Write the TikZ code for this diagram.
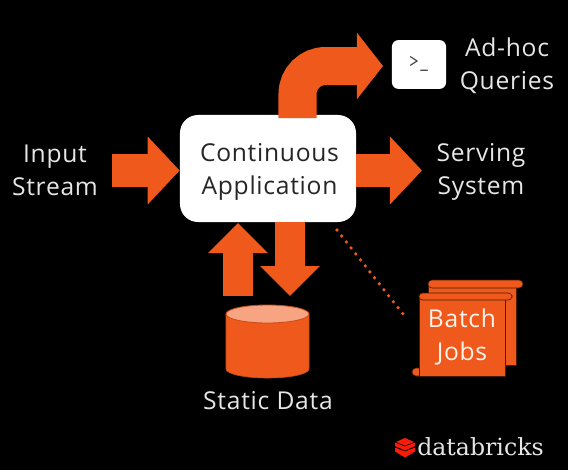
\documentclass[tikz,border=0pt]{standalone}
\usepackage{fontspec}
\setmainfont{Open Sans}[LetterSpace=3]
\newfontfamily\logofont{DejaVu Serif}
\usepackage{xcolor}
\usetikzlibrary{arrows.meta, positioning}
\definecolor{flamecol}{HTML}{EF5A1C}
\definecolor{paper}{HTML}{E6E6E6}

\begin{document}
\begin{tikzpicture}[
  x=0.025cm, y=-0.025cm,
  lbl/.style={align=center, text=paper, inner sep=0pt,
              font=\fontsize{17.5}{23.4}\selectfont},
  whitebox/.style={fill=white, rounded corners=0.45cm, minimum width=4.4cm, minimum height=2.675cm},
  termbox/.style={fill=white, rounded corners=0.16cm, minimum width=1.35cm, minimum height=1.22cm,
                  inner sep=0pt, text=black!75, font=\ttfamily\fontsize{14}{14}\selectfont},
  flow/.style={line width=0.825cm, flamecol, -{Triangle[length=0.8cm,width=1.65cm]}},
  flowthin/.style={line width=0.75cm, flamecol, -{Triangle[length=0.75cm,width=1.45cm]}},
  flowbent/.style={line width=0.95cm, flamecol, rounded corners=0.7cm,
                   -{Triangle[length=0.65cm,width=1.625cm]}},
  dbbody/.style={fill=flamecol, draw=flamecol!85!black, line width=0.4pt},
  dbtop/.style={fill=flamecol!55!white, draw=flamecol!85!black, line width=0.6pt},
  scroll/.style={fill=flamecol, draw=black!70!flamecol, line width=0.4pt},
  dotlink/.style={dash pattern=on 0pt off 0.19cm, line cap=round, line width=0.09cm, flamecol},
]
\fill[black] (0,0) rectangle (568,470);
\useasboundingbox (0,0) rectangle (568,470);
% main box and the outputs
\node[whitebox] (app) at (268,168.5) {};
\node[lbl, text=black!85] (applbl) at (269.5,172) {Continuous\\Application};
\node[termbox] (term) at (419,64.5) {>\_};
\node[lbl] (adhoc) at (507,66) {Ad-hoc\\Queries};
\node[lbl] (input) at (55,170) {Input\\Stream};
\node[lbl] (serving) at (481,172) {Serving\\System};
% static data
\draw[dbbody] (226,314) -- (226,369) arc[start angle=180, end angle=0, x radius=41.5, y radius=9] -- (309,314) -- cycle;
\draw[dbtop] (267.5,314) ellipse[x radius=41.5, y radius=9];
\node[lbl] (static) at (268,401) {Static Data};
% batch jobs, back sheet then front sheet
\draw[scroll] (428,284) rectangle (516,365);
\draw[scroll, rounded corners=0.1cm] (428,280) rectangle (523,288);
\draw[scroll, rounded corners=0.1cm] (412,368) rectangle (430,376);
\draw[scroll] (419,297) rectangle (505,376);
\fill[flamecol] (420,369) rectangle (431,375.6);
\draw[scroll, rounded corners=0.09cm] (419,293) rectangle (512,300);
\node[lbl, text=white!92!flamecol] (batch) at (462,337) {Batch\\Jobs};
% arrows
\coordinate (instart) at (112,170.5);
\coordinate (outend) at (422,170.5);
\coordinate (upstart) at (238,296);
\coordinate (upend) at (238,223);
\coordinate (downstart) at (290,222);
\coordinate (downend) at (290,296);
\coordinate (bentstart) at (297.5,118);
\coordinate (bentknee) at (297.5,66);
\coordinate (bentend) at (383,66);
\draw[flow] (instart) -- (app.west |- instart);
\draw[flow] (app.east |- outend) -- (outend);
\draw[flowthin] (upstart) -- (upend);
\draw[flowthin] (downstart) -- (downend);
\draw[flowbent] (bentstart) -- (bentknee) -- (bentend);
% dotted link to the batch jobs
\coordinate (dotstart) at (337,230);
\coordinate (dotend) at (403,314);
\draw[dotlink] (dotstart) -- (dotend);
% logo
\fill[red!70!flamecol] (405,451.5) -- (415,447.5) -- (415,451.5) -- (405,457.5) -- (395,451.5) -- (395,447.5) -- cycle;
\fill[red!70!flamecol] (405,446.5) -- (415,442.5) -- (415,446) -- (405,450.5) -- (395,446) -- (395,442.5) -- cycle;
\fill[red!70!flamecol] (405,438) -- (414,442) -- (405,445.5) -- (396,442) -- cycle;
\node[anchor=west, inner sep=0pt, text=paper, font=\logofont\fontsize{16.8}{20}\selectfont] (logo) at (417,447) {databricks};
\end{tikzpicture}
\end{document}
